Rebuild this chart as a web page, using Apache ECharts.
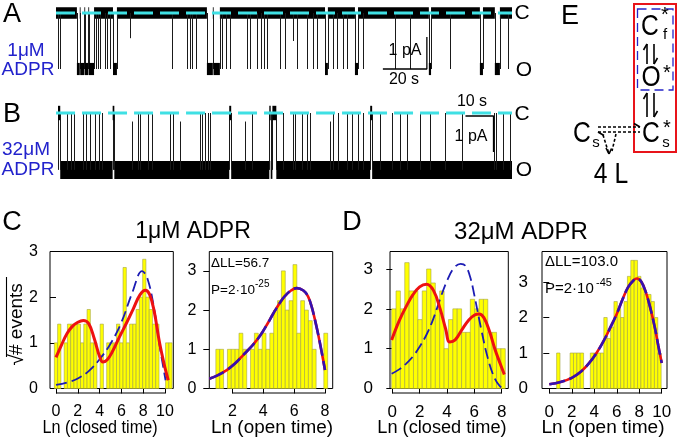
<!DOCTYPE html>
<html><head><meta charset="utf-8">
<script src="https://cdn.jsdelivr.net/npm/echarts@6/dist/echarts.min.js"></script>
<style>html,body{margin:0;padding:0;background:#fff}#c{width:677px;height:443px}</style>
</head><body><div id="c"></div>
<script>
// ================= DATA =================
// Panel A (1 µM ADPR): channel openings [start (s), duration (s), fraction of full amplitude]
const traceA_open = [[1.1,0.2,1],[2.0,0.2,1],[9.5,1.3,1],[11.0,1.9,1],[13.1,1.6,1],[14.9,2.4,1],
  [18.4,0.2,1],[19.3,0.2,1],[20.0,0.2,1],[22.3,0.2,1],[23.4,0.2,1],[24.5,0.2,1],[25.9,1.8,1],
  [33.6,0.2,0.45],[52.7,0.2,1],[59.5,0.2,1],[60.9,0.2,1],[62.0,0.2,1],[63.6,0.2,1],
  [68.6,2.7,1],[71.6,2.9,1],[75.5,0.2,1],[77.5,0.2,1],[78.9,0.2,1],[86.8,0.2,1],[88.0,0.2,1],
  [91.4,0.2,1],[93.2,0.2,1],[94.5,0.2,1],[95.9,0.2,1],[101.8,0.2,1],[104.1,0.2,1],[107.7,0.2,0.5],
  [109.5,0.2,1],[114.1,0.2,1],[116.8,0.2,1],[118.6,0.2,1],[122.3,1.3,1],[125.9,0.2,1],[127.7,0.2,1],
  [130.5,0.2,1],[132.3,0.2,1],[135.9,1.4,1],[139.5,0.2,1],[154.1,0.2,1],[160.9,0.2,1],[169.5,1.0,1],
  [179.1,0.2,1],[192.7,1.4,1],[199.5,2.3,1],[205.5,0.2,1]];
const traceA_length = 207.3;      // s
const traceA_openLevel = -1.75;   // pA
// Panel B (32 µM ADPR): channel closures [start (s), duration (s), fraction]
const traceB_closed = [[0,0.8,1],[3.2,0.2,1],[4.6,0.2,1],[5.7,0.2,1],[8.9,0.2,1],[10.0,0.2,1],[11.4,0.2,1],
  [13.2,0.2,1],[14.6,0.2,1],[15.7,0.2,1],[19.5,0.6,1],[26.4,0.2,0.85],[28.6,0.2,1],[29.3,0.2,1],[32.1,0.2,1],
  [33.6,0.2,1],[40.0,0.2,1],[41.1,0.2,1],[43.6,0.2,0.85],[50.7,0.2,1],[51.4,0.2,1],[52.5,0.2,1],[53.6,0.2,1],
  [54.3,0.2,1],[61.1,0.7,1],[66.8,0.2,0.85],[69.3,0.2,1],[75.4,0.5,1],[76.5,1.4,1],[80.4,0.2,1],[83.9,0.2,1],
  [84.6,0.2,1],[87.1,0.2,1],[88.9,0.2,1],[90.0,0.2,1],[97.1,0.2,0.85],[98.2,0.2,1],[100.0,0.2,1],[103.2,0.2,1],
  [105.0,0.2,1],[107.1,0.2,1],[108.9,0.2,1],[111.4,0.7,1],[115.0,0.2,1],[119.3,0.2,1],[122.1,0.2,1],
  [124.6,0.2,1],[129.3,0.2,1],[132.9,0.2,1],[138.2,0.2,1],[144.3,0.2,1],[155.4,0.2,1],[156.4,0.2,1],
  [158.9,0.2,1],[161.4,0.2,1]];
const traceB_length = 162;
const traceB_openLevel = -1.58;

// Panel C, closed-time histogram (Ln closed time; sqrt # events)
const cClosedBinWidth = 0.3;
const cClosedCenters = [0,0.3,0.6,0.9,1.2,1.5,1.8,2.1,2.4,2.7,3.0,3.3,3.6,3.9,4.2,4.5,4.8,5.1,5.4,5.7,6.0,6.3,6.6,6.9,7.2,7.5,7.8,8.1,8.4,8.7,9.0,9.3,9.6,9.9,10.2,10.5];
const cClosedHeights = [1,1.41,0,1,1.41,1.41,1.41,1.41,1,1.41,1.73,1,1,0,1.41,0,1,1,1,1.41,1,2.65,1,1.41,1.41,1.73,2,2.83,2,1.73,1.41,1.41,0,0,1,1];
const cClosedRed = [[0,0.68],[0.5,0.95],[1,1.2],[1.5,1.36],[2,1.45],[2.5,1.49],[3,1.42],[3.5,1.1],[4,0.7],[4.3,0.58],[4.7,0.63],[5.2,0.82],[5.8,1.12],[6.5,1.45],[7.1,1.75],[7.7,2.05],[8.2,2.15],[8.6,2.05],[9,1.7],[9.5,1.0],[10,0.45],[10.3,0.18]];
const cClosedBlue = [[0,0.08],[1,0.13],[2,0.22],[3,0.38],[4,0.64],[5,0.98],[6,1.45],[7,2.1],[7.9,2.57],[8.4,2.4],[9,1.75],[9.5,0.95],[10.05,0.18]];
// Panel C, open-time histogram
const cOpenBinWidth = 0.25;
const cOpenCenters = [1.05,1.3,1.55,1.8,2.05,2.3,2.55,2.8,3.05,3.3,3.55,3.8,4.05,4.3,4.55,4.8,5.05,5.3,5.55,5.8,6.05,6.3,6.55,6.8,7.05,7.3,7.55,7.8,8.05];
const cOpenHeights = [1,1,0,1,1,1,1.41,1,0,1,1.41,1,1.41,1,1.41,2,2.24,3,2,2.24,3.16,1.41,2.24,2,1.73,1,0,0,1.41];
const cOpenFit = [[0.5,0.25],[1,0.33],[1.63,0.47],[2.2,0.65],[2.71,0.86],[3.3,1.1],[3.8,1.35],[4.3,1.67],[4.66,1.92],[5.1,2.2],[5.41,2.36],[5.8,2.5],[6.17,2.56],[6.6,2.5],[6.9,2.35],[7.14,2.08],[7.35,1.75],[7.57,1.36],[7.8,0.9],[8.0,0.47]];
const cLL = 'ΔLL=56.7', cP = 'P=2·10', cPexp = '-25';
// Panel D, closed-time histogram
const dClosedBinWidth = 0.32;
const dClosedCenters = [0.11,0.43,0.75,1.07,1.39,1.71,2.03,2.35,2.67,2.99,3.31,3.63,3.95,4.27,4.59,4.91,5.23,5.55,5.87,6.19,6.51,6.83,7.15,7.47,7.79,8.11];
const dClosedHeights = [2,2.45,2,3.16,2.45,2.45,1.73,2.45,3,2.65,2,2.45,1,1.73,2,2,1.41,1.41,2.24,2,2.24,2.24,1.41,1.41,1,1];
const dClosedRed = [[-0.05,1.22],[0.5,1.7],[1,2.05],[1.5,2.35],[2,2.55],[2.5,2.62],[3,2.47],[3.5,2.0],[3.9,1.5],[4.2,1.17],[4.6,1.22],[5.1,1.48],[5.6,1.72],[6.0,1.84],[6.35,1.87],[6.7,1.78],[7.1,1.45],[7.5,1.0],[7.9,0.62],[8.2,0.35]];
const dClosedBlue = [[-0.05,0.37],[0.5,0.48],[1,0.62],[1.5,0.8],[2,1.05],[2.5,1.35],[3,1.75],[3.5,2.25],[4,2.7],[4.5,3.02],[5,3.13],[5.35,3.08],[5.7,2.8],[6,2.35],[6.5,1.5],[7,0.75],[7.5,0.25],[7.9,0.05],[8.2,0.0]];
// Panel D, open-time histogram
const dOpenBinWidth = 0.3;
const dOpenCenters = [0.8,1.1,1.4,1.7,2.0,2.3,2.6,2.9,3.2,3.5,3.8,4.1,4.4,4.7,5.0,5.3,5.6,5.9,6.2,6.5,6.8,7.1,7.4,7.7,8.0,8.3,8.6,8.9,9.2,9.5,9.8];
const dOpenHeights = [1,0,0,0,1,1,1,1,0,0,1,1,1,1,2,1.41,1.73,2.45,2.24,2,2.45,3.16,3.61,3.61,3.16,2.83,2.65,2.65,2.45,2,1];
const dOpenFit = [[0,0.12],[1,0.18],[2,0.3],[2.8,0.47],[3.5,0.7],[4.2,1.0],[4.8,1.32],[5.4,1.7],[6,2.1],[6.5,2.5],[7,2.85],[7.5,3.05],[7.8,3.1],[8.2,3.0],[8.6,2.7],[9,2.25],[9.4,1.7],[9.7,1.2],[10,0.72]];
const dLL = 'ΔLL=103.0', dP = 'P=2·10', dPexp = '-45';

// ================= BUILD =================
const FONT = 'Liberation Sans, Arial, Helvetica, sans-serif';
const LONG = 0.45;
function complement(events, T) {
  const segs = []; let cur = 0;
  events.filter(e => e[1] >= LONG).forEach(e => { if (e[0] > cur) segs.push([cur, e[0]]); cur = Math.max(cur, e[0] + e[1]); });
  if (cur < T) segs.push([cur, T]);
  return segs;
}
function bandRender(level, noise) {
  return function (params, api) {
    const p0 = api.coord([api.value(0), level + noise]);
    const p1 = api.coord([api.value(1), level - noise]);
    return { type: 'rect', shape: { x: p0[0], y: p0[1], width: Math.max(0.8, p1[0] - p0[0]), height: p1[1] - p0[1] }, style: { fill: '#000' } };
  };
}
function eventRender(base, alt, noise) {
  return function (params, api) {
    const t = api.value(0), d = api.value(1), f = api.value(2);
    const lvl = base + (alt - base) * f;
    const ch = [];
    const a = api.coord([t, base]), b = api.coord([t, lvl]);
    const x = Math.round(a[0]) + 0.5;
    ch.push({ type: 'line', shape: { x1: x, y1: a[1], x2: x, y2: b[1] }, style: { stroke: '#1a1a1a', lineWidth: 1 } });
    if (d >= LONG) {
      const c = api.coord([t + d, base]), e = api.coord([t + d, lvl]);
      const x2 = Math.round(c[0]) + 0.5;
      ch.push({ type: 'line', shape: { x1: x2, y1: c[1], x2: x2, y2: e[1] }, style: { stroke: '#1a1a1a', lineWidth: 1 } });
      const r0 = api.coord([t, lvl + noise]), r1 = api.coord([t + d, lvl - noise]);
      ch.push({ type: 'rect', shape: { x: r0[0], y: r0[1], width: Math.max(1, r1[0] - r0[0]), height: r1[1] - r0[1] }, style: { fill: '#000' } });
    }
    return { type: 'group', children: ch };
  };
}
function histRender(params, api) {
  const p0 = api.coord([api.value(0), api.value(2)]);
  const p1 = api.coord([api.value(1), 0]);
  return { type: 'rect', shape: { x: p0[0], y: p0[1], width: p1[0] - p0[0], height: p1[1] - p0[1] }, style: { fill: '#ffff00', stroke: '#a3a345', lineWidth: 0.6 } };
}
function axisSegRender(params, api) {
  const a = api.coord([api.value(0), 0]), b = api.coord([api.value(1), 0]);
  return { type: 'line', shape: { x1: a[0], y1: b[1] + 4.5, x2: b[0], y2: b[1] + 4.5 }, style: { stroke: '#000', lineWidth: 1 } };
}
function bins(centers, heights, w) {
  return centers.map((c, i) => [c - w / 2, c + w / 2, heights[i]]).filter(d => d[2] > 0);
}

const grids = [
  { left: 56, top: 3, width: 456, height: 77 },
  { left: 58, top: 95, width: 454, height: 90 },
  { left: 50, top: 251.5, width: 123.3, height: 137 },
  { left: 209.3, top: 251.5, width: 123.4, height: 137 },
  { left: 390, top: 251.5, width: 118.3, height: 137 },
  { left: 542, top: 251.5, width: 125, height: 137 }
].map((g, i) => Object.assign(g, i >= 2 ? { show: true, borderColor: '#000', borderWidth: 1, backgroundColor: 'transparent' } : {}));

const histX = [
  { min: -0.55, max: 10.76, ticks: [0, 2, 4, 6, 8, 10], fs: 16 },
  { min: 0.5, max: 8.5, ticks: [2, 4, 6, 8], fs: 16 },
  { min: -0.17, max: 8.49, ticks: [0, 2, 4, 6, 8], fs: 17 },
  { min: -0.65, max: 10.47, ticks: [0, 2, 4, 6, 8, 10], fs: 17 }
];
const histYMax = [3, 3.495, 3.44, 3.86];
const histYMargin = [12, 13, 17, 14];

const xAxes = [
  { gridIndex: 0, type: 'value', min: 0, max: traceA_length, show: false },
  { gridIndex: 1, type: 'value', min: 0, max: traceB_length, show: false }
];
const yAxes = [
  { gridIndex: 0, type: 'value', min: -67 / 32, max: 10 / 32, show: false },
  { gridIndex: 1, type: 'value', min: -2.0, max: 0.5, show: false }
];
histX.forEach((h, i) => {
  xAxes.push({ gridIndex: i + 2, type: 'value', min: h.min, max: h.max, offset: 4,
    axisLine: { show: false }, splitLine: { show: false },
    axisTick: { show: true, length: 5, lineStyle: { color: '#000' }, customValues: h.ticks },
    axisLabel: { fontSize: h.fs, color: '#000', fontFamily: FONT, margin: 11, customValues: h.ticks } });
  yAxes.push({ gridIndex: i + 2, type: 'value', min: 0, max: histYMax[i],
    axisLine: { show: false }, splitLine: { show: false },
    axisTick: { show: true, length: 6, lineStyle: { color: '#000' }, customValues: [0, 1, 2, 3] },
    axisLabel: { fontSize: h.fs, color: '#000', fontFamily: FONT, margin: histYMargin[i], customValues: [0, 1, 2, 3] } });
});

const series = [];
// Trace A
series.push({ type: 'custom', xAxisIndex: 0, yAxisIndex: 0, renderItem: bandRender(0, 0.18), data: complement(traceA_open, traceA_length) });
series.push({ type: 'custom', xAxisIndex: 0, yAxisIndex: 0, renderItem: eventRender(0, traceA_openLevel, 0.19), data: traceA_open });
series.push({ type: 'line', xAxisIndex: 0, yAxisIndex: 0, data: [[0, 0], [traceA_length, 0]], symbol: 'none', z: 10, lineStyle: { color: '#3fe0e4', width: 3, type: [19, 7] } });
series.push({ type: 'line', xAxisIndex: 0, yAxisIndex: 0, data: [[148.6, traceA_openLevel], [168.6, traceA_openLevel], [168.6, traceA_openLevel + 1]], symbol: 'none', lineStyle: { color: '#000', width: 1.3 } });
// Trace B
series.push({ type: 'custom', xAxisIndex: 1, yAxisIndex: 1, renderItem: bandRender(traceB_openLevel, 0.25), data: complement(traceB_closed, traceB_length) });
series.push({ type: 'custom', xAxisIndex: 1, yAxisIndex: 1, renderItem: eventRender(traceB_openLevel, 0, 0.2), data: traceB_closed });
series.push({ type: 'line', xAxisIndex: 1, yAxisIndex: 1, data: [[-0.7, 0], [traceB_length, 0]], symbol: 'none', z: 10, lineStyle: { color: '#3fe0e4', width: 3, type: [19, 7] } });
series.push({ type: 'line', xAxisIndex: 1, yAxisIndex: 1, data: [[145.4, -0.083], [155.4, -0.083], [155.4, -1.083]], symbol: 'none', lineStyle: { color: '#000', width: 1.3 } });

const hists = [
  { bars: bins(cClosedCenters, cClosedHeights, cClosedBinWidth), red: cClosedRed, blue: cClosedBlue, open: false },
  { bars: bins(cOpenCenters, cOpenHeights, cOpenBinWidth), red: cOpenFit, blue: cOpenFit, open: true },
  { bars: bins(dClosedCenters, dClosedHeights, dClosedBinWidth), red: dClosedRed, blue: dClosedBlue, open: false },
  { bars: bins(dOpenCenters, dOpenHeights, dOpenBinWidth), red: dOpenFit, blue: dOpenFit, open: true }
];
hists.forEach((h, i) => {
  const ax = i + 2;
  series.push({ type: 'custom', xAxisIndex: ax, yAxisIndex: ax, renderItem: histRender, data: h.bars, encode: { x: [0, 1], y: 2 } });
  series.push({ type: 'custom', xAxisIndex: ax, yAxisIndex: ax, renderItem: axisSegRender, data: [[histX[i].ticks[0], histX[i].ticks[histX[i].ticks.length - 1]]], encode: { x: [0, 1] } });
  if (h.open) {
    series.push({ type: 'line', xAxisIndex: ax, yAxisIndex: ax, data: h.red, smooth: 0.4, symbol: 'none', z: 5, lineStyle: { color: '#ee1111', width: 2.6 } });
    series.push({ type: 'line', xAxisIndex: ax, yAxisIndex: ax, data: h.blue, smooth: 0.4, symbol: 'none', z: 6, lineStyle: { color: '#3412b0', width: 2.6, type: [16, 5] } });
  } else {
    series.push({ type: 'line', xAxisIndex: ax, yAxisIndex: ax, data: h.blue, smooth: 0.4, symbol: 'none', z: 5, lineStyle: { color: '#1c1cb4', width: 1.8, type: [11, 5] } });
    series.push({ type: 'line', xAxisIndex: ax, yAxisIndex: ax, data: h.red, smooth: 0.4, symbol: 'none', z: 6, lineStyle: { color: '#ee1111', width: 3 } });
  }
});

function T(text, x, y, size, opts) {
  opts = opts || {};
  return { type: 'text', x: x, y: y, scaleX: opts.sx || 1, silent: true, z: 100,
    style: { text: text, x: 0, y: 0, fill: opts.color || '#000', fontSize: size, fontFamily: FONT,
      align: opts.align || 'center', textAlign: opts.align || 'center', verticalAlign: 'middle', textVerticalAlign: 'middle' } };
}
function L(x1, y1, x2, y2, opts) {
  opts = opts || {};
  return { type: 'line', silent: true, z: 100, shape: { x1, y1, x2, y2 }, style: { stroke: opts.color || '#000', lineWidth: opts.w || 1.6, lineDash: opts.dash || null } };
}
const BLUE = '#2222cc';
const graphic = [
  T('A', 12, 15, 27), T('B', 12, 115, 27), T('C', 12, 223, 27), T('D', 352, 223, 27), T('E', 570, 17, 27),
  T('1μM', 26, 51, 19, { color: BLUE }), T('ADPR', 28, 70, 19, { color: BLUE }),
  T('32μM', 26, 150, 19, { color: BLUE }), T('ADPR', 28, 170, 19, { color: BLUE }),
  T('C', 522, 13, 21), T('O', 524, 70, 21), T('C', 522, 114, 21), T('O', 524, 170, 21),
  T('1 pA', 405, 51, 16), T('20 s', 404, 80, 16), T('10 s', 472, 102, 16), T('1 pA', 471, 137, 16),
  T('1μM ADPR', 193, 232, 23), T('32μM ADPR', 521, 232, 24),
  T('Ln (closed time)', 100, 428, 18, { sx: 0.9 }), T('Ln (open time)', 272, 428, 18, { sx: 1.05 }),
  T('Ln (closed time)', 442, 428, 18, { sx: 1.01 }), T('Ln (open time)', 603, 428, 18, { sx: 1.06 }),
  T(cLL, 211, 263, 13.5, { align: 'left' }), T(cP, 211, 290, 13.5, { align: 'left' }), T(cPexp, 255, 284, 10, { align: 'left' }),
  T(dLL, 545, 262, 15, { align: 'left' }), T(dP, 545, 289, 15, { align: 'left' }), T(dPexp, 596, 283, 11, { align: 'left' }),
  // y-axis title (rotated)
  { type: 'group', x: 17, y: 325, rotation: Math.PI / 2, silent: true, z: 100, children: [
    { type: 'text', style: { text: '# events', x: -30, y: 0, fill: '#000', fontSize: 19, fontFamily: FONT, align: 'left', textAlign: 'left', verticalAlign: 'middle', textVerticalAlign: 'middle' } },
    { type: 'text', style: { text: '√', x: -29, y: 0, fill: '#000', fontSize: 21, fontFamily: FONT, align: 'right', textAlign: 'right', verticalAlign: 'middle', textVerticalAlign: 'middle' } },
    { type: 'line', shape: { x1: -32, y1: -10.5, x2: 48, y2: -10.5 }, style: { stroke: '#000', lineWidth: 1.1 } }
  ] },
  // Panel E scheme
  { type: 'rect', silent: true, z: 100, shape: { x: 634, y: 4, width: 42, height: 148 }, style: { fill: 'none', stroke: '#e8141a', lineWidth: 2 } },
  { type: 'rect', silent: true, z: 100, shape: { x: 637.5, y: 9, width: 35.5, height: 81 }, style: { fill: 'none', stroke: '#2525c8', lineWidth: 1.3, lineDash: [9, 5] } },
  T('C', 650, 27, 29, { sx: 0.85 }), T('*', 665, 15, 20), T('f', 665, 35, 15),
  T('O', 651, 78, 29, { sx: 0.85 }), T('*', 667, 73, 20),
  T('C', 651, 134, 29, { sx: 0.85 }), T('*', 667, 128, 20), T('s', 666, 143, 15),
  T('C', 582, 134, 29, { sx: 0.85 }), T('s', 596, 143, 15),
  T('4 L', 611, 175, 29, { sx: 0.85 }),
  L(647, 44, 647, 64), L(647, 44, 643.5, 50), L(654, 44, 654, 64), L(654, 64, 657.5, 58),
  L(647, 93, 647, 117), L(647, 93, 643.5, 99), L(654, 93, 654, 117), L(654, 117, 657.5, 111),
  L(598, 127, 640, 127, { dash: [3, 2] }), L(640, 127, 634, 123.5),
  L(598, 132, 640, 132, { dash: [3, 2] }), L(598, 132, 604, 135.5),
  L(603, 135, 609, 154, { dash: [3, 2] }), L(609, 154, 606, 148), L(609, 154, 611.5, 148.5),
  L(616, 134, 612, 151, { dash: [3, 2] })
];

const chart = echarts.init(document.getElementById('c'), null, { renderer: 'canvas' });
chart.setOption({ animation: false, backgroundColor: '#fff', textStyle: { fontFamily: FONT },
  grid: grids, xAxis: xAxes, yAxis: yAxes, series: series, graphic: graphic });
</script></body></html>
